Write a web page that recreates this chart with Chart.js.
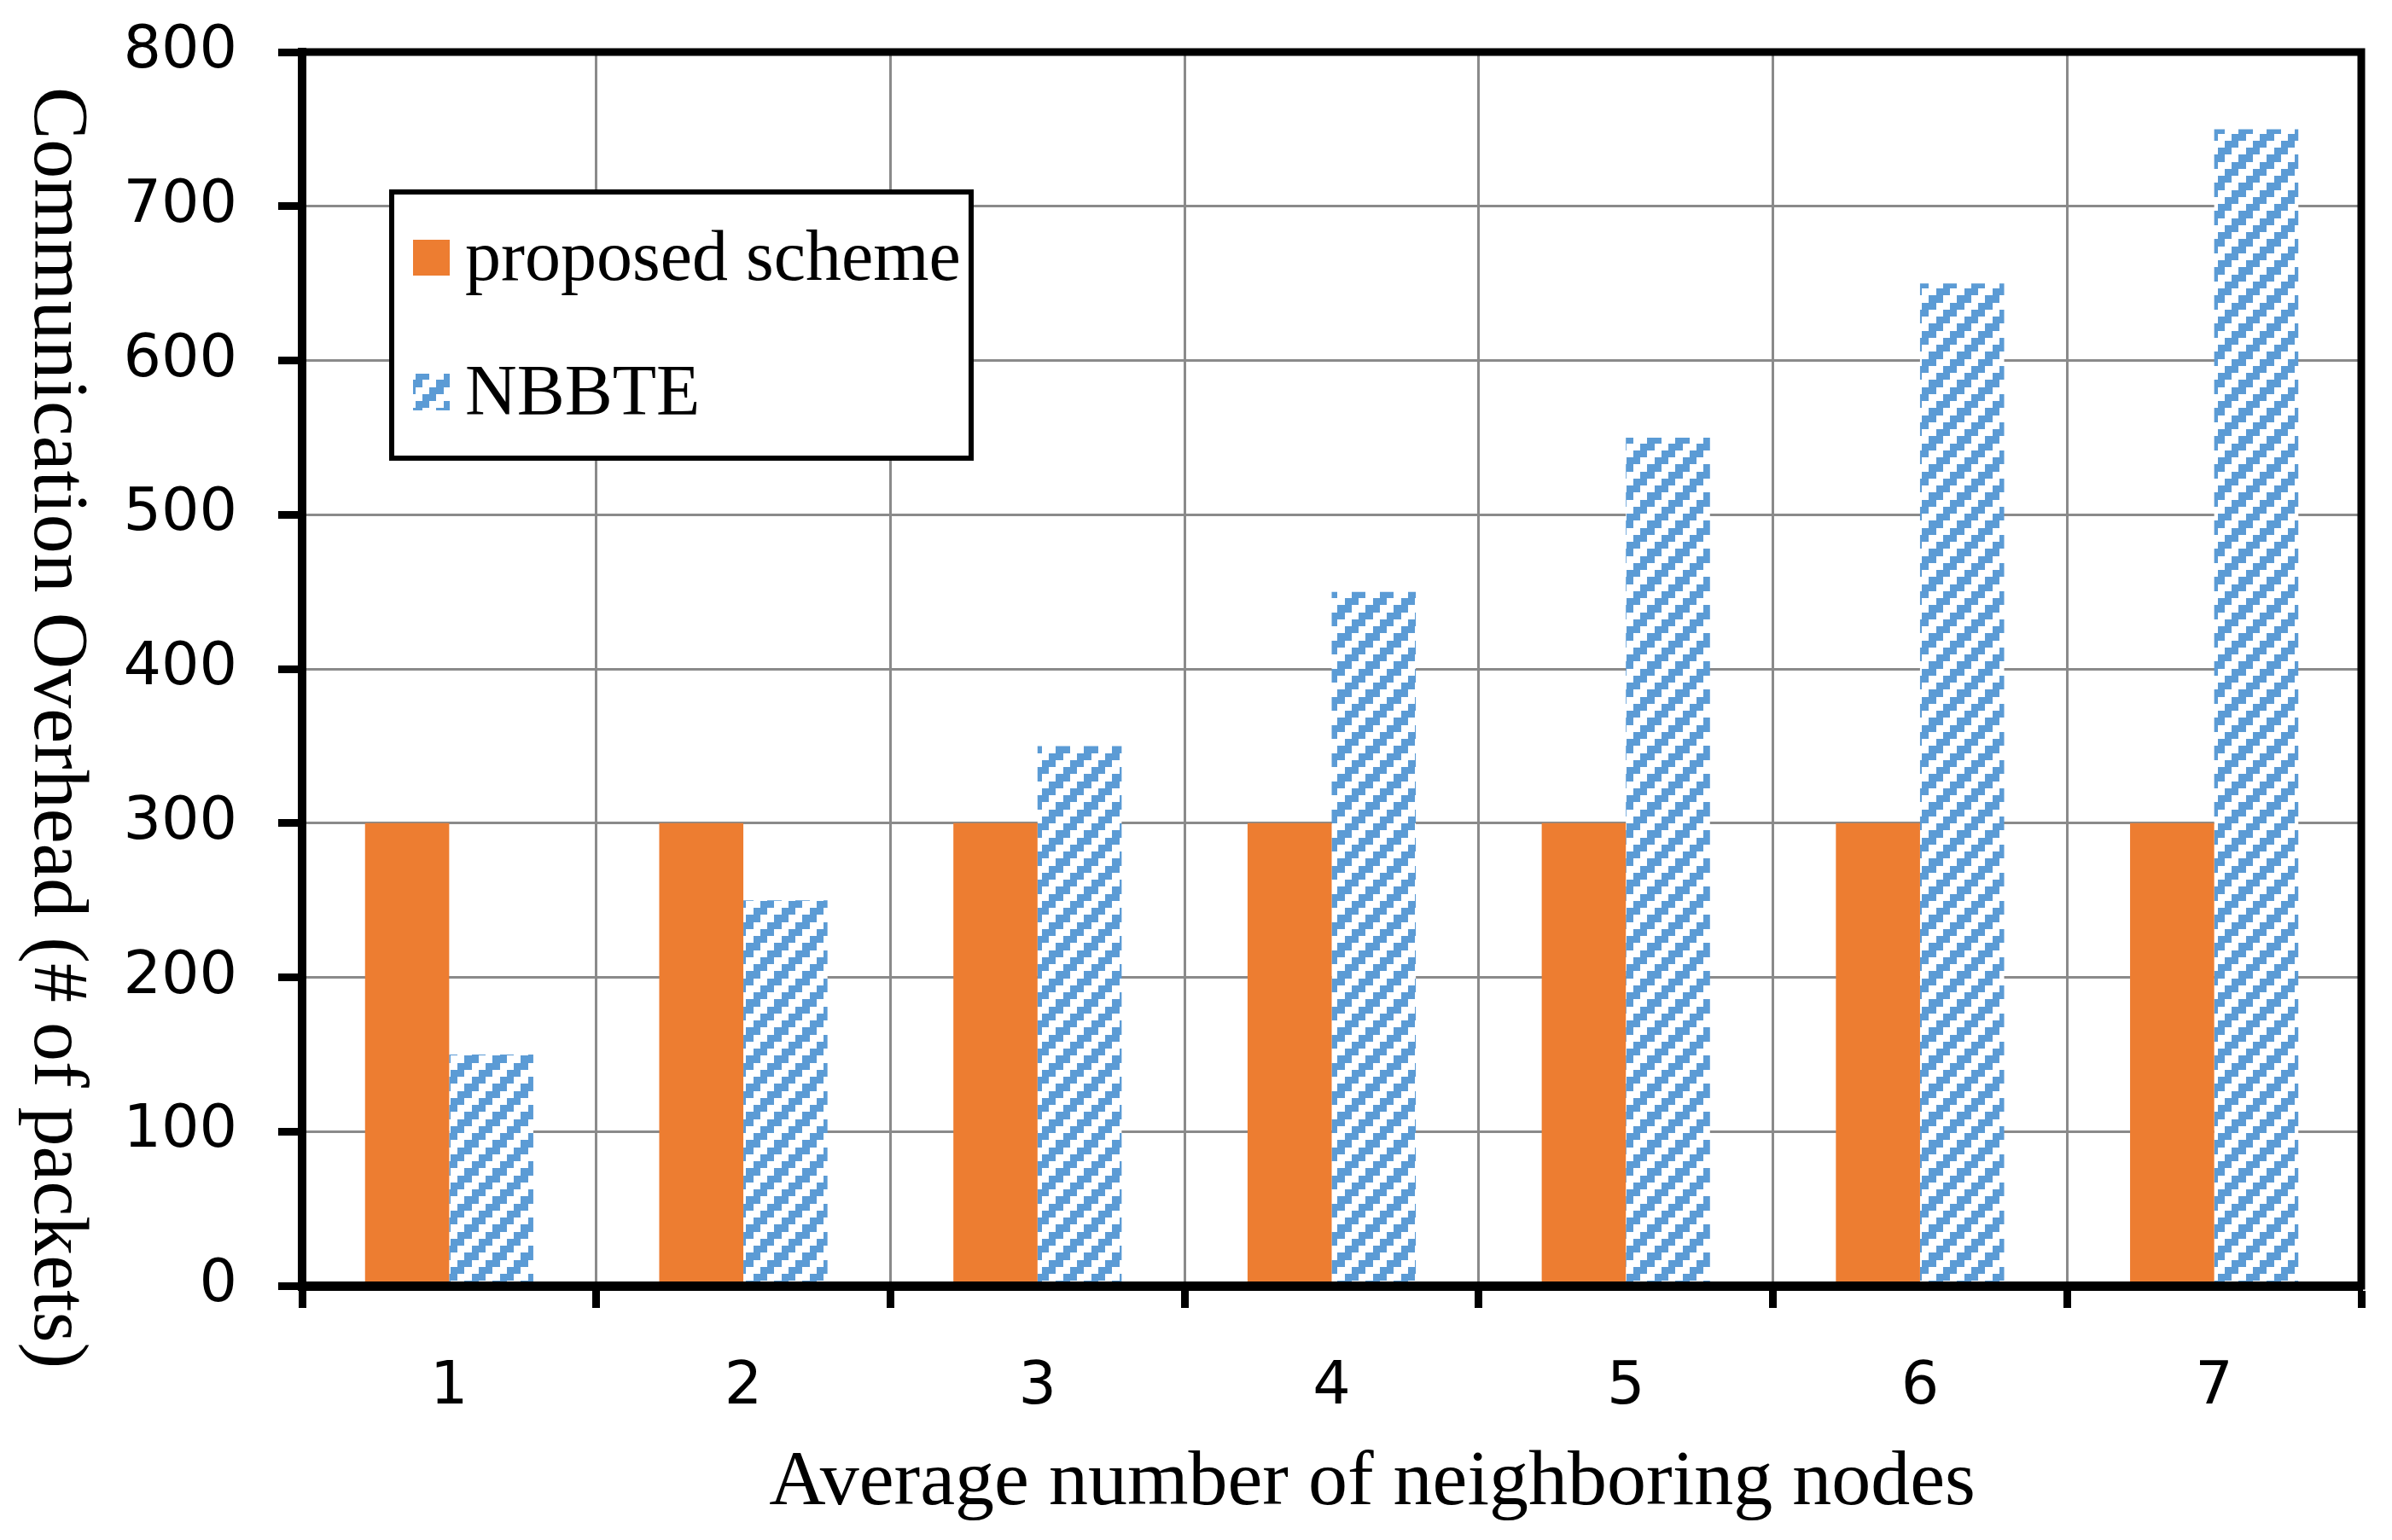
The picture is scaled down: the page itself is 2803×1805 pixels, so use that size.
<!DOCTYPE html>
<html><head><meta charset="utf-8">
<script src="https://cdn.jsdelivr.net/npm/chart.js@4.4.1/dist/chart.umd.min.js"></script>
<style>html,body{margin:0;padding:0;background:#fff;overflow:hidden}</style>
</head><body>
<canvas id="c" width="2803" height="1805" style="display:block;width:2803px;height:1805px"></canvas>
<script>
const categories = ['1', '2', '3', '4', '5', '6', '7'];
const proposedValues = [300, 300, 300, 300, 300, 300, 300];
const nbbteValues = [150, 250, 350, 450, 550, 650, 750];
const seriesNames = ['proposed scheme', 'NBBTE'];
const xTitle = 'Average number of neighboring nodes';
const yTitle = 'Communication Overhead (# of packets)';
const yMin = 0, yMax = 800, yStep = 100;

const ORANGE = '#ED7D31';
const BLUE = '#5B9BD5';

const canvas = document.getElementById('c');
const ctx = canvas.getContext('2d');

function makeHatch() {
  const s = 33;
  const c = document.createElement('canvas');
  c.width = s; c.height = s;
  const g = c.getContext('2d');
  g.fillStyle = '#fff'; g.fillRect(0, 0, s, s);
  g.fillStyle = BLUE;
  const b = [0, 8, 16, 25, 33];
  for (let i = 0; i < 4; i++) for (let j = 0; j < 4; j++) {
    if (((i + j) % 4) < 2) g.fillRect(b[i], b[j], b[i + 1] - b[i], b[j + 1] - b[j]);
  }
  return ctx.createPattern(c, 'repeat');
}
const hatch = makeHatch();

const SERIF = '"Liberation Serif", "Times New Roman", serif';

const decorPlugin = {
  id: 'decor',
  afterDraw(chart) {
    const c = chart.ctx, a = chart.chartArea;
    c.save();
    // top & right frame
    c.strokeStyle = '#000'; c.lineWidth = 9; c.lineCap = 'square';
    c.beginPath();
    c.moveTo(a.left, a.top); c.lineTo(a.right, a.top); c.lineTo(a.right, a.bottom);
    c.stroke();
    // legend
    c.lineCap = 'butt';
    c.fillStyle = '#fff';
    c.fillRect(456, 222, 685, 318);
    c.lineWidth = 6; c.strokeStyle = '#000';
    c.strokeRect(459, 225, 679, 312);
    c.fillStyle = ORANGE; c.fillRect(484, 281, 43, 42);
    c.fillStyle = hatch; c.fillRect(484, 438, 43, 43);
    c.fillStyle = '#000';
    c.font = '84px ' + SERIF;
    c.textAlign = 'left'; c.textBaseline = 'alphabetic';
    c.fillText(seriesNames[0], 545, 328);
    c.fillText(seriesNames[1], 545, 486);
    // axis titles
    c.font = '92px ' + SERIF;
    c.textAlign = 'center';
    c.fillText(xTitle, 1608, 1763);
    c.translate(41, 853);
    c.rotate(Math.PI / 2);
    c.fillText(yTitle, 0, 0);
    c.restore();
  }
};

new Chart(canvas, {
  type: 'bar',
  data: {
    labels: categories,
    datasets: [
      { label: seriesNames[0], data: proposedValues, backgroundColor: ORANGE, borderWidth: 0 },
      { label: seriesNames[1], data: nbbteValues, backgroundColor: hatch, borderWidth: 0 }
    ]
  },
  options: {
    responsive: false,
    animation: false,
    devicePixelRatio: 1,
    layout: { padding: { top: 61, right: 36, left: 0, bottom: 0 } },
    datasets: { bar: { barPercentage: 1, categoryPercentage: 0.572 } },
    plugins: { legend: { display: false }, tooltip: { enabled: false } },
    scales: {
      x: {
        grid: { color: '#8a8a8a', lineWidth: 3, tickColor: '#000', tickWidth: 9, tickLength: 26, offset: true },
        border: { display: true, color: '#000', width: 11, z: 1 },
        ticks: { color: '#000', font: { family: '"DejaVu Sans"', size: 70 }, padding: 52, maxRotation: 0, minRotation: 0 },
        afterFit(s) { s.height = 298; s.paddingLeft = 0; s.paddingRight = 0; }
      },
      y: {
        min: yMin, max: yMax,
        grid: { color: '#8a8a8a', lineWidth: 3, tickColor: '#000', tickWidth: 9, tickLength: 28 },
        border: { display: true, color: '#000', width: 10, z: 1 },
        ticks: { stepSize: yStep, color: '#000', font: { family: '"DejaVu Sans"', size: 70 }, padding: 48 },
        afterFit(s) { s.width = 354; s.paddingTop = 0; s.paddingBottom = 0; }
      }
    }
  },
  plugins: [decorPlugin]
});
</script></body></html>
